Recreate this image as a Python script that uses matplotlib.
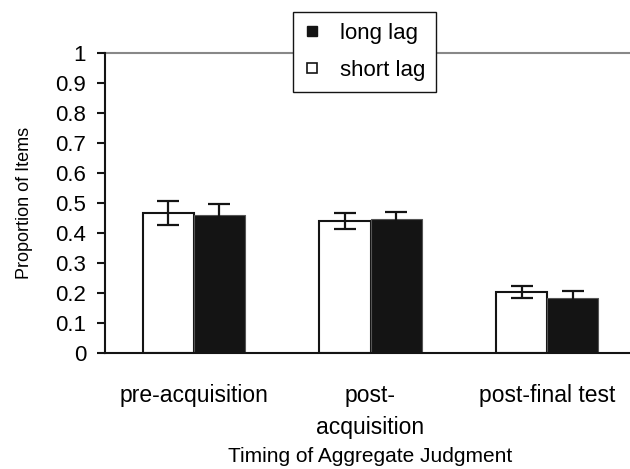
import matplotlib
matplotlib.use("Agg")
import matplotlib.pyplot as plt
from matplotlib.lines import Line2D
import numpy as np

plt.rcParams['font.family'] = ['Liberation Sans', 'DejaVu Sans']

# data
categories = ['pre-acquisition', 'post-\nacquisition', 'post-final test']
short_lag = [0.466, 0.440, 0.203]
short_err = [0.039, 0.027, 0.019]
long_lag = [0.460, 0.447, 0.184]
long_err = [0.037, 0.023, 0.024]
y_ticks = [0, 0.1, 0.2, 0.3, 0.4, 0.5, 0.6, 0.7, 0.8, 0.9, 1]
y_tick_labels = ['0', '0.1', '0.2', '0.3', '0.4', '0.5', '0.6', '0.7', '0.8', '0.9', '1']

dark = '#141414'

fig = plt.figure(figsize=(6.3, 4.69), dpi=100)
ax = fig.add_axes([105.5 / 630, 116 / 469, 530 / 630, 300 / 469])

x = np.arange(len(categories))
w = 0.29

ax.bar(x - w / 2, short_lag, w, color='white', edgecolor=dark, linewidth=1.5, zorder=2)
ax.bar(x + w / 2, long_lag, w, color=dark, edgecolor='#555555', linewidth=0.8, zorder=2)
ax.errorbar(x - w / 2, short_lag, yerr=short_err, fmt='none', ecolor=dark,
            elinewidth=1.6, capsize=8, capthick=1.6, zorder=3)
ax.errorbar(x + w / 2, long_lag, yerr=long_err, fmt='none', ecolor=dark,
            elinewidth=1.6, capsize=8, capthick=1.6, zorder=3)

ax.set_xlim(-0.5, 2.5)
ax.set_ylim(0, 1)
ax.set_yticks(y_ticks)
ax.set_yticklabels(y_tick_labels)
ax.set_xticks(x)
ax.set_xticklabels(categories, linespacing=1.55)
ax.tick_params(axis='y', labelsize=16, length=6, width=1.5, pad=8, color=dark)
ax.tick_params(axis='x', labelsize=16.5, length=0, pad=22)

ax.spines['right'].set_visible(False)
ax.spines['top'].set_visible(False)
ax.spines['left'].set_linewidth(1.5)
ax.spines['bottom'].set_linewidth(1.5)
ax.spines['left'].set_color(dark)
ax.spines['bottom'].set_color(dark)
ax.axhline(1, color='#888888', linewidth=1.5, zorder=1, clip_on=False)

ax.set_ylabel('Proportion of Items', fontsize=13)
ax.set_xlabel('Timing of Aggregate Judgment', fontsize=15)
ax.yaxis.set_label_coords(-(105.5 - 33) / 530, 0.5)
ax.xaxis.set_label_coords((370 - 105.5) / 530, -(447 - 353) / 300)

handles = [
    Line2D([], [], marker='s', linestyle='none', markersize=7,
           markerfacecolor=dark, markeredgecolor=dark),
    Line2D([], [], marker='s', linestyle='none', markersize=7,
           markerfacecolor='white', markeredgecolor=dark, markeredgewidth=1.2),
]
leg = fig.legend(handles, ['long lag', 'short lag'], loc='upper left',
                 bbox_to_anchor=(293 / 630, 1 - 12 / 469), fontsize=16,
                 frameon=True, fancybox=False, edgecolor=dark, framealpha=1,
                 handlelength=0.7, handletextpad=0.9, labelspacing=0.7,
                 borderpad=0.5, borderaxespad=0)
leg.get_frame().set_linewidth(1.0)

fig.savefig('out.png', dpi=100)
